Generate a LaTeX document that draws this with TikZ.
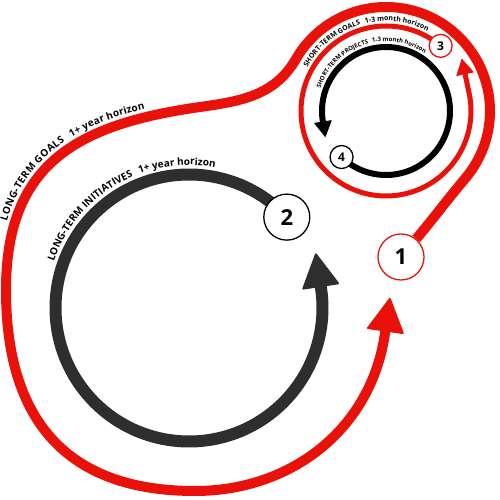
\documentclass[tikz,border=0pt]{standalone}
\usepackage{fontspec}
\setmainfont{Open Sans}
\usetikzlibrary{arrows.meta,decorations.text,backgrounds}

\definecolor{goalred}{RGB}{232,18,10}
\definecolor{darkgrey}{RGB}{46,46,46}

\begin{document}
\begin{tikzpicture}[x=1pt,y=1pt]
	\tikzset{numbered/.style={draw, circle, fill=white, inner sep=0pt, line width=1.3pt}}
	\tikzset{bigtip/.style={-{Triangle[length=35pt, width=38pt, line width=2pt, round]}}}
	\tikzset{smalltip/.style={-{Triangle[length=16pt, width=18pt, line width=1pt, round]}}}
	\def \rbig {133.5}
	\def \rout {104}
	\def \rin {85}
	\def \rproj {64}
	
	\useasboundingbox (0,0) rectangle (500,500);
	\coordinate (cg) at (189,192);
	\coordinate (cs) at (386,389);
	
	\node[numbered, draw=goalred, minimum size=46pt, font=\bfseries\fontsize{22}{22}\selectfont] (n1) at (401,243) {1};
	\node[numbered, minimum size=46pt, font=\bfseries\fontsize{22}{22}\selectfont] (n2) at ([shift={(cg)}]42.9:\rbig) {2};
	\node[numbered, draw=goalred, minimum size=23pt, font=\bfseries\fontsize{12}{12}\selectfont] (n3) at ([shift={(cs)}]50:\rin) {3};
	\node[numbered, minimum size=23pt, font=\bfseries\fontsize{12}{12}\selectfont] (n4) at ([shift={(cs)}]226:\rproj) {4};
	
	\begin{scope}[on background layer]
		\draw[line width=10pt, goalred, bigtip] (n1) to[out=50,in=230] ([shift={(cs)}]-40:\rout)
			arc[start angle=-40, end angle=150, radius=\rout] to[out=240,in=8] (200,393)
			to[out=188,in=90,looseness=1.2] (6,210) to[out=270,in=180,looseness=1.2] (195,9)
			to[out=0,in=262] (385,167) -- (390,202);
		\draw[line width=12pt, darkgrey, bigtip] (n2.center) arc[start angle=42.9, end angle=368.6, radius=\rbig] -- ++(98.6:35);
		\draw[line width=5pt, goalred, smalltip] (n3.center) arc[start angle=50, end angle=372, radius=\rin] -- ++(102:35);
		\draw[line width=6pt, black, smalltip] (n4.center) arc[start angle=226, end angle=549, radius=\rproj] -- ++(279:16);
	\end{scope}
	
	% labels along the loops
	\path[decorate, decoration={text along path, raise=8pt, text align={left indent=67pt},
		text={|\bfseries\fontsize{10}{12}\selectfont|LONG-TERM GOALS{\kern7pt}1+ year horizon}}]
		(6,210) to[out=90,in=188,looseness=1.2] (200,393);
	\path[decorate, decoration={text along path,
		text={|\bfseries\fontsize{10}{12}\selectfont|LONG-TERM INITIATIVES{\kern7pt}1+ year horizon}}]
		([shift={(cg)}]161:143) arc[start angle=161, end angle=30, radius=143];
	\path[decorate, decoration={text along path,
		text={|\bfseries\fontsize{7}{8}\selectfont|SHORT-TERM GOALS{\kern5pt}1-3 month horizon}}]
		([shift={(cs)}]151:90) arc[start angle=151, end angle=20, radius=90];
	\path[decorate, decoration={text along path,
		text={|\bfseries\fontsize{6}{7}\selectfont|SHORT-TERM PROJECTS{\kern4pt}1-3 month horizon}}]
		([shift={(cs)}]161:69.5) arc[start angle=161, end angle=20, radius=69.5];
\end{tikzpicture}
\end{document}
